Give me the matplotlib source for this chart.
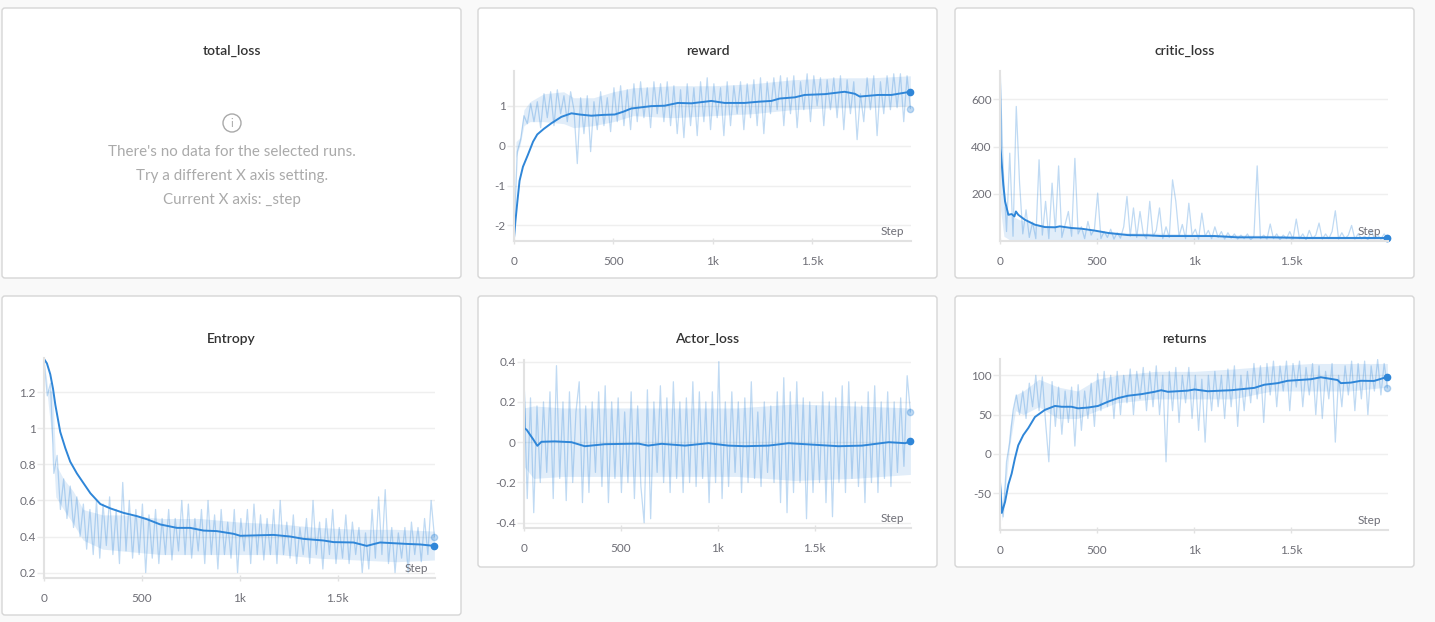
import numpy as np
import matplotlib
matplotlib.use("Agg")
import matplotlib.pyplot as plt
from matplotlib.patches import FancyBboxPatch, Circle

plt.rcParams['font.family'] = ['Lato', 'DejaVu Sans']

# ---- data ----
reward_raw = [-2.3, -0.15, 0.15, 0.75, 0.55, 1.05, 0.6, 1.1, 0.45, 1.3, 0.7, 1.35, 0.5, 1.4, 0.8,
              1.25, 0.6, 1.35, 0.9, -0.45, 1.2, 0.3, 1.25, -0.15, 1.1, 0.4, 1.35, 0.5, 1.2, 0.35,
              1.45, 0.6, 1.5, 0.5, 1.4, 0.4, 1.55, 0.6, 1.6, 0.7, 1.45, 0.45, 1.6, 0.8, 1.55,
              0.6, 1.6, 0.5, 1.5, 0.3, 1.4, 0.2, 1.55, 0.5, 1.45, 0.25, 1.6, 0.6, 1.7, 0.4,
              1.55, 0.7, 1.45, 0.25, 1.6, 0.5, 1.5, 0.8, 1.6, 0.4, 1.55, 0.7, 1.65, 0.5, 1.7,
              0.3, 1.6, 0.8, 1.7, 0.9, 1.75, 0.5, 1.7, 0.8, 1.75, 0.45, 1.6, 0.9, 1.8, 0.6,
              1.75, 1.0, 1.7, 0.5, 1.65, 0.9, 1.7, 0.7, 1.75, 0.4, 1.65, 0.8, 1.6, 0.15, 1.3,
              0.6, 1.7, 0.9, 1.75, 0.25, 1.6, 0.8, 1.75, 0.9, 1.8, 0.95, 1.8, 0.6, 1.75, 0.93]
reward_band_steps = [0, 10, 30, 50, 80, 150, 250, 300, 400, 500, 600, 800, 1000, 1200, 1400,
                     1600, 1800, 1995]
reward_band_lo = [-2.3, -0.3, 0.0, 0.5, 0.6, 0.6, 0.55, 0.45, 0.5, 0.6, 0.75, 0.7, 0.75, 0.8,
                  0.9, 0.95, 0.95, 1.0]
reward_band_hi = [-2.3, 0.1, 0.2, 0.9, 1.1, 1.3, 1.35, 1.2, 1.2, 1.35, 1.45, 1.5, 1.5, 1.55,
                  1.65, 1.7, 1.7, 1.75]
reward_smooth_steps = [0, 7, 17, 28, 45, 70, 96, 117, 150, 188, 238, 289, 330, 389, 450, 507, 550,
                       590, 691, 758, 825, 893, 993, 1060, 1161, 1230, 1295, 1337, 1413, 1463,
                       1564, 1664, 1715, 1740, 1832, 1899, 1995]
reward_smooth = [-2.32, -1.9, -1.4, -0.88, -0.53, -0.23, 0.1, 0.28, 0.42, 0.56, 0.72, 0.81, 0.78,
                 0.75, 0.77, 0.78, 0.85, 0.93, 0.99, 1.0, 1.07, 1.06, 1.12, 1.07, 1.07, 1.1, 1.12,
                 1.18, 1.21, 1.27, 1.29, 1.35, 1.30, 1.23, 1.27, 1.27, 1.35]

critic_raw = [720, 300, 40, 372, 20, 570, 248, 30, 132, 15, 80, 10, 344, 25, 168, 10, 245, 40, 318,
              15, 70, 125, 20, 350, 30, 60, 10, 83, 25, 50, 203, 10, 40, 15, 50, 8, 35, 12, 60,
              189, 20, 140, 15, 125, 30, 10, 168, 20, 45, 140, 10, 60, 15, 259, 168, 20, 70, 10,
              160, 25, 50, 8, 118, 20, 45, 10, 60, 15, 40, 8, 35, 12, 30, 8, 25, 10, 30, 5, 20,
              318, 10, 25, 8, 72, 10, 30, 5, 25, 10, 40, 8, 93, 10, 30, 5, 45, 10, 25, 76, 8, 30,
              10, 40, 128, 8, 35, 10, 25, 66, 8, 30, 10, 20, 5, 45, 10, 25, 8, 30, 12]
critic_band_steps = [0, 20, 50, 100, 200, 300, 400, 500, 700, 1000, 1300, 1600, 1995]
critic_band_lo = [150, 20, 5, 5, 3, 3, 3, 3, 3, 3, 3, 3, 3]
critic_band_hi = [450, 150, 110, 90, 70, 60, 50, 40, 35, 30, 25, 22, 20]
critic_smooth_steps = [0, 3, 17, 26, 43, 60, 74, 82, 94, 128, 180, 231, 283, 308, 368, 420, 488,
                       557, 659, 762, 830, 967, 1105, 1224, 1310, 1395, 1567, 1738, 1995]
critic_smooth = [720, 393, 238, 168, 111, 114, 104, 125, 111, 90, 69, 59, 58, 62, 55, 52, 44, 34,
                 25, 24, 21, 21, 21, 15.5, 15.5, 15.5, 12.7, 12.7, 12.7]

entropy_raw = [1.38, 1.18, 1.25, 0.75, 0.85, 0.55, 0.72, 0.5, 0.68, 0.45, 0.62, 0.4, 0.58, 0.33,
               0.55, 0.3, 0.6, 0.28, 0.58, 0.35, 0.62, 0.3, 0.55, 0.25, 0.7, 0.32, 0.6, 0.28, 0.55,
               0.3, 0.58, 0.2, 0.52, 0.28, 0.55, 0.25, 0.5, 0.3, 0.55, 0.27, 0.5, 0.32, 0.6, 0.3,
               0.58, 0.28, 0.5, 0.32, 0.55, 0.25, 0.6, 0.3, 0.52, 0.22, 0.55, 0.3, 0.48, 0.28,
               0.55, 0.2, 0.5, 0.32, 0.55, 0.25, 0.58, 0.3, 0.52, 0.27, 0.5, 0.3, 0.55, 0.25, 0.6,
               0.3, 0.48, 0.28, 0.52, 0.25, 0.45, 0.3, 0.5, 0.25, 0.6, 0.3, 0.48, 0.22, 0.5, 0.3,
               0.55, 0.25, 0.45, 0.28, 0.52, 0.25, 0.48, 0.3, 0.45, 0.2, 0.42, 0.22, 0.55, 0.28,
               0.62, 0.3, 0.66, 0.25, 0.45, 0.2, 0.42, 0.28, 0.45, 0.2, 0.48, 0.3, 0.45, 0.26,
               0.5, 0.3, 0.6, 0.4]
entropy_band_steps = [0, 20, 45, 60, 100, 150, 200, 300, 400, 600, 800, 1000, 1200, 1400, 1600,
                      1800, 1995]
entropy_band_lo = [1.38, 1.15, 0.9, 0.62, 0.55, 0.47, 0.38, 0.33, 0.32, 0.3, 0.3, 0.3, 0.3,
                   0.28, 0.27, 0.26, 0.27]
entropy_band_hi = [1.38, 1.22, 1.2, 0.8, 0.72, 0.65, 0.55, 0.52, 0.52, 0.5, 0.5, 0.48, 0.47,
                   0.45, 0.44, 0.44, 0.43]
entropy_smooth_steps = [0, 15, 32, 46, 58, 83, 109, 134, 168, 203, 237, 288, 339, 407, 475, 526,
                        594, 679, 747, 815, 883, 969, 1003, 1105, 1173, 1258, 1326, 1428, 1479,
                        1581, 1649, 1717, 1786, 1854, 1922, 1995]
entropy_smooth = [1.385, 1.36, 1.30, 1.22, 1.13, 0.98, 0.89, 0.815, 0.75, 0.694, 0.64, 0.58,
                  0.556, 0.531, 0.513, 0.496, 0.467, 0.448, 0.448, 0.433, 0.43, 0.415, 0.404,
                  0.407, 0.409, 0.40, 0.387, 0.378, 0.369, 0.367, 0.348, 0.367, 0.363, 0.359,
                  0.356, 0.348]

actor_raw = [0.27, -0.28, 0.22, -0.35, 0.18, -0.2, 0.2, -0.15, 0.25, -0.28, 0.38, -0.18, 0.2,
             -0.29, 0.25, -0.2, 0.15, 0.3, -0.3, 0.18, -0.25, 0.2, -0.15, 0.25, -0.22, 0.28,
             -0.3, 0.2, -0.18, 0.22, -0.25, 0.15, -0.2, 0.25, -0.28, 0.18, -0.22, -0.4, 0.26,
             -0.38, 0.2, -0.15, 0.28, -0.2, 0.22, -0.25, 0.3, -0.18, 0.2, -0.25, 0.22, -0.2, 0.3,
             -0.22, 0.25, -0.18, 0.2, -0.3, 0.25, -0.2, 0.4, -0.28, 0.2, -0.22, 0.25, -0.15, 0.2,
             -0.25, 0.22, -0.2, 0.3, -0.18, 0.15, -0.22, 0.2, -0.15, 0.18, -0.2, 0.25, -0.3,
             0.32, -0.35, 0.25, -0.25, 0.3, -0.2, 0.22, -0.38, 0.2, -0.25, 0.18, -0.2, 0.25,
             -0.3, 0.2, -0.37, 0.22, -0.2, 0.28, -0.25, 0.3, -0.18, 0.2, -0.22, 0.18, -0.3, 0.25,
             -0.2, 0.28, -0.25, 0.2, -0.18, 0.25, -0.22, 0.2, -0.15, 0.22, -0.12, 0.33, 0.15]
actor_band_steps = [0, 50, 200, 500, 800, 1100, 1400, 1700, 1995]
actor_band_lo = [-0.12, -0.18, -0.17, -0.17, -0.17, -0.17, -0.19, -0.18, -0.16]
actor_band_hi = [0.17, 0.18, 0.17, 0.17, 0.17, 0.17, 0.19, 0.18, 0.17]
actor_smooth_steps = [0, 3, 15, 29, 47, 69, 90, 159, 245, 314, 417, 590, 641, 710, 831, 952,
                      1055, 1141, 1262, 1366, 1486, 1624, 1745, 1883, 1969, 1995]
actor_smooth = [0.27, 0.07, 0.06, 0.04, 0.015, -0.018, 0.002, 0.004, 0.0, -0.02, -0.01, -0.007,
                -0.017, -0.008, -0.017, -0.005, -0.017, -0.02, -0.017, -0.005, -0.012, -0.02,
                -0.017, 0.0, -0.005, 0.005]

returns_raw = [-35, -80, -10, 15, 55, 75, 50, 80, 45, 90, 60, 100, 55, 98, 40, -10, 92, 35, 85,
               25, 80, 40, 85, 10, 88, 30, 80, 45, 90, 35, 102, 55, 105, 60, 100, 45, 105, 50,
               100, 65, 108, 50, 105, 70, 110, 55, 105, 60, 112, 50, 100, -10, 105, 55, 110, 40,
               100, 65, 110, 45, 100, 30, 95, 15, 100, 55, 105, 60, 100, 45, 108, 60, 112, 35,
               100, 55, 105, 65, 115, 70, 112, 40, 115, 75, 118, 60, 112, 80, 118, 55, 115, 85,
               118, 60, 110, 75, 115, 50, 112, 45, 105, 70, 115, 15, 100, 60, 112, 75, 118, 55,
               115, 70, 118, 50, 112, 80, 120, 75, 115, 84]
returns_band_steps = [0, 10, 30, 50, 80, 120, 200, 300, 400, 500, 600, 800, 1000, 1200, 1400,
                      1600, 1800, 1995]
returns_band_lo = [-40, -85, -40, 10, 55, 50, 60, 45, 45, 55, 65, 70, 70, 70, 80, 80, 80, 85]
returns_band_hi = [-35, -70, -20, 35, 75, 80, 95, 85, 80, 95, 100, 105, 105, 108, 112, 115, 115,
                   115]
returns_smooth_steps = [0, 9, 26, 43, 60, 77, 94, 120, 146, 180, 231, 283, 317, 368, 402, 454,
                        505, 557, 608, 659, 728, 796, 830, 865, 967, 1002, 1070, 1190, 1310, 1361,
                        1430, 1481, 1601, 1652, 1738, 1755, 1807, 1858, 1926, 1995]
returns_smooth = [-35, -75, -61, -39, -25, -5.5, 11, 24, 33, 47, 56, 61, 60, 60, 58, 59, 61,
                  66.5, 71, 74, 76, 79, 81, 79, 80.5, 82, 79.7, 81, 84, 88, 90, 93, 95, 97.5, 94,
                  90, 90.7, 93, 92.8, 98]

W, H = 1435, 622
BLUE = '#2f86d8'
TICK_GRAY = '#6e6e76'

fig = plt.figure(figsize=(W / 100, H / 100), dpi=100)
fig.patch.set_facecolor('#f9f9f9')

# background layer in pixel coordinates
bg = fig.add_axes([0, 0, 1, 1], zorder=0)
bg.set_xlim(0, W)
bg.set_ylim(H, 0)
bg.axis('off')

panels = [(2, 8, 461, 278), (478, 8, 937, 278), (955, 8, 1414, 278),
          (2, 296, 461, 615), (478, 296, 937, 567), (955, 296, 1414, 567)]
for (l, t, r, b) in panels:
    bg.add_patch(FancyBboxPatch((l, t), r - l, b - t, boxstyle="round,pad=0,rounding_size=3",
                                facecolor='white', edgecolor='#d6d6d6', lw=1))

titles = [("total_loss", 231.5, 51), ("reward", 707.5, 51), ("critic_loss", 1184.5, 51),
          ("Entropy", 231.5, 339), ("Actor_loss", 707.5, 339), ("returns", 1184.5, 339)]
for name, x, y in titles:
    bg.text(x, y, name, ha='center', va='center', fontsize=10, fontweight='semibold',
            color='#333333')

# empty panel
bg.add_patch(Circle((232, 123), 9, facecolor='none', edgecolor='#a9a9a9', lw=1))
bg.text(232, 123.5, "i", ha='center', va='center', fontsize=8, color='#a9a9a9')
for txt, y in [("There's no data for the selected runs.", 152),
               ("Try a different X axis setting.", 176),
               ("Current X axis: _step", 200)]:
    bg.text(232, y, txt, ha='center', va='center', fontsize=10.9, color='#aaaaaa')


def px_axes(l, t, r, b):
    return fig.add_axes([l / W, 1 - b / H, (r - l) / W, (b - t) / H], zorder=2)


def draw(box, raw, band, sm_steps, sm, ylim, yticks, ylabels):
    ax = px_axes(*box)
    ax.patch.set_alpha(0)
    raw_steps = np.linspace(0, 1995, len(raw))
    ax.fill_between(band[0], band[1], band[2], color=BLUE, alpha=0.14, lw=0)
    ax.plot(raw_steps, raw, color=BLUE, alpha=0.3, lw=0.9)
    ax.plot(sm_steps, sm, color=BLUE, lw=1.4)
    ax.plot(raw_steps[-1], raw[-1], 'o', color=BLUE, alpha=0.3, ms=4.5, clip_on=False)
    ax.plot(sm_steps[-1], sm[-1], 'o', color=BLUE, ms=4.5, clip_on=False)
    ax.set_xlim(0, 1998)
    ax.set_ylim(*ylim)
    ax.set_xticks([0, 500, 1000, 1500])
    ax.set_xticklabels(["0", "500", "1k", "1.5k"])
    ax.set_yticks(yticks)
    ax.set_yticklabels(ylabels)
    ax.grid(axis='y', color='#efefef', lw=1)
    ax.set_axisbelow(True)
    for s in ['top', 'right']:
        ax.spines[s].set_visible(False)
    for s in ['left', 'bottom']:
        ax.spines[s].set_color('#e2e2e2')
        ax.spines[s].set_linewidth(1.5)
    ax.tick_params(axis='x', direction='inout', length=5, color='#e2e2e2', width=1,
                   labelcolor=TICK_GRAY, labelsize=8.5, pad=8)
    ax.tick_params(axis='y', direction='out', length=5, color='#eaeaea', width=1,
                   labelcolor=TICK_GRAY, labelsize=8.5, pad=1)
    ax.annotate("Step", xy=(1, 0), xycoords='axes fraction', xytext=(-5, 7),
                textcoords='offset points', ha='right', va='center', fontsize=8.5,
                color=TICK_GRAY)
    return ax


draw((514, 71, 911, 241), reward_raw, (reward_band_steps, reward_band_lo, reward_band_hi),
     reward_smooth_steps, reward_smooth, (-2.39, 1.87), [-2, -1, 0, 1], ["-2", "-1", "0", "1"])
draw((1000, 71, 1388, 241), critic_raw, (critic_band_steps, critic_band_lo, critic_band_hi),
     critic_smooth_steps, critic_smooth, (0, 720), [200, 400, 600], ["200", "400", "600"])
draw((44, 358, 435, 578), entropy_raw, (entropy_band_steps, entropy_band_lo, entropy_band_hi),
     entropy_smooth_steps, entropy_smooth, (0.17, 1.39), [0.2, 0.4, 0.6, 0.8, 1.0, 1.2],
     ["0.2", "0.4", "0.6", "0.8", "1", "1.2"])
draw((524, 360, 911, 528), actor_raw, (actor_band_steps, actor_band_lo, actor_band_hi),
     actor_smooth_steps, actor_smooth, (-0.426, 0.408), [-0.4, -0.2, 0, 0.2, 0.4],
     ["-0.4", "-0.2", "0", "0.2", "0.4"])
draw((1000, 359, 1388, 530), returns_raw, (returns_band_steps, returns_band_lo, returns_band_hi),
     returns_smooth_steps, returns_smooth, (-96.7, 120.7), [-50, 0, 50, 100],
     ["-50", "0", "50", "100"])

plt.savefig("out.png", dpi=100, facecolor=fig.get_facecolor())
